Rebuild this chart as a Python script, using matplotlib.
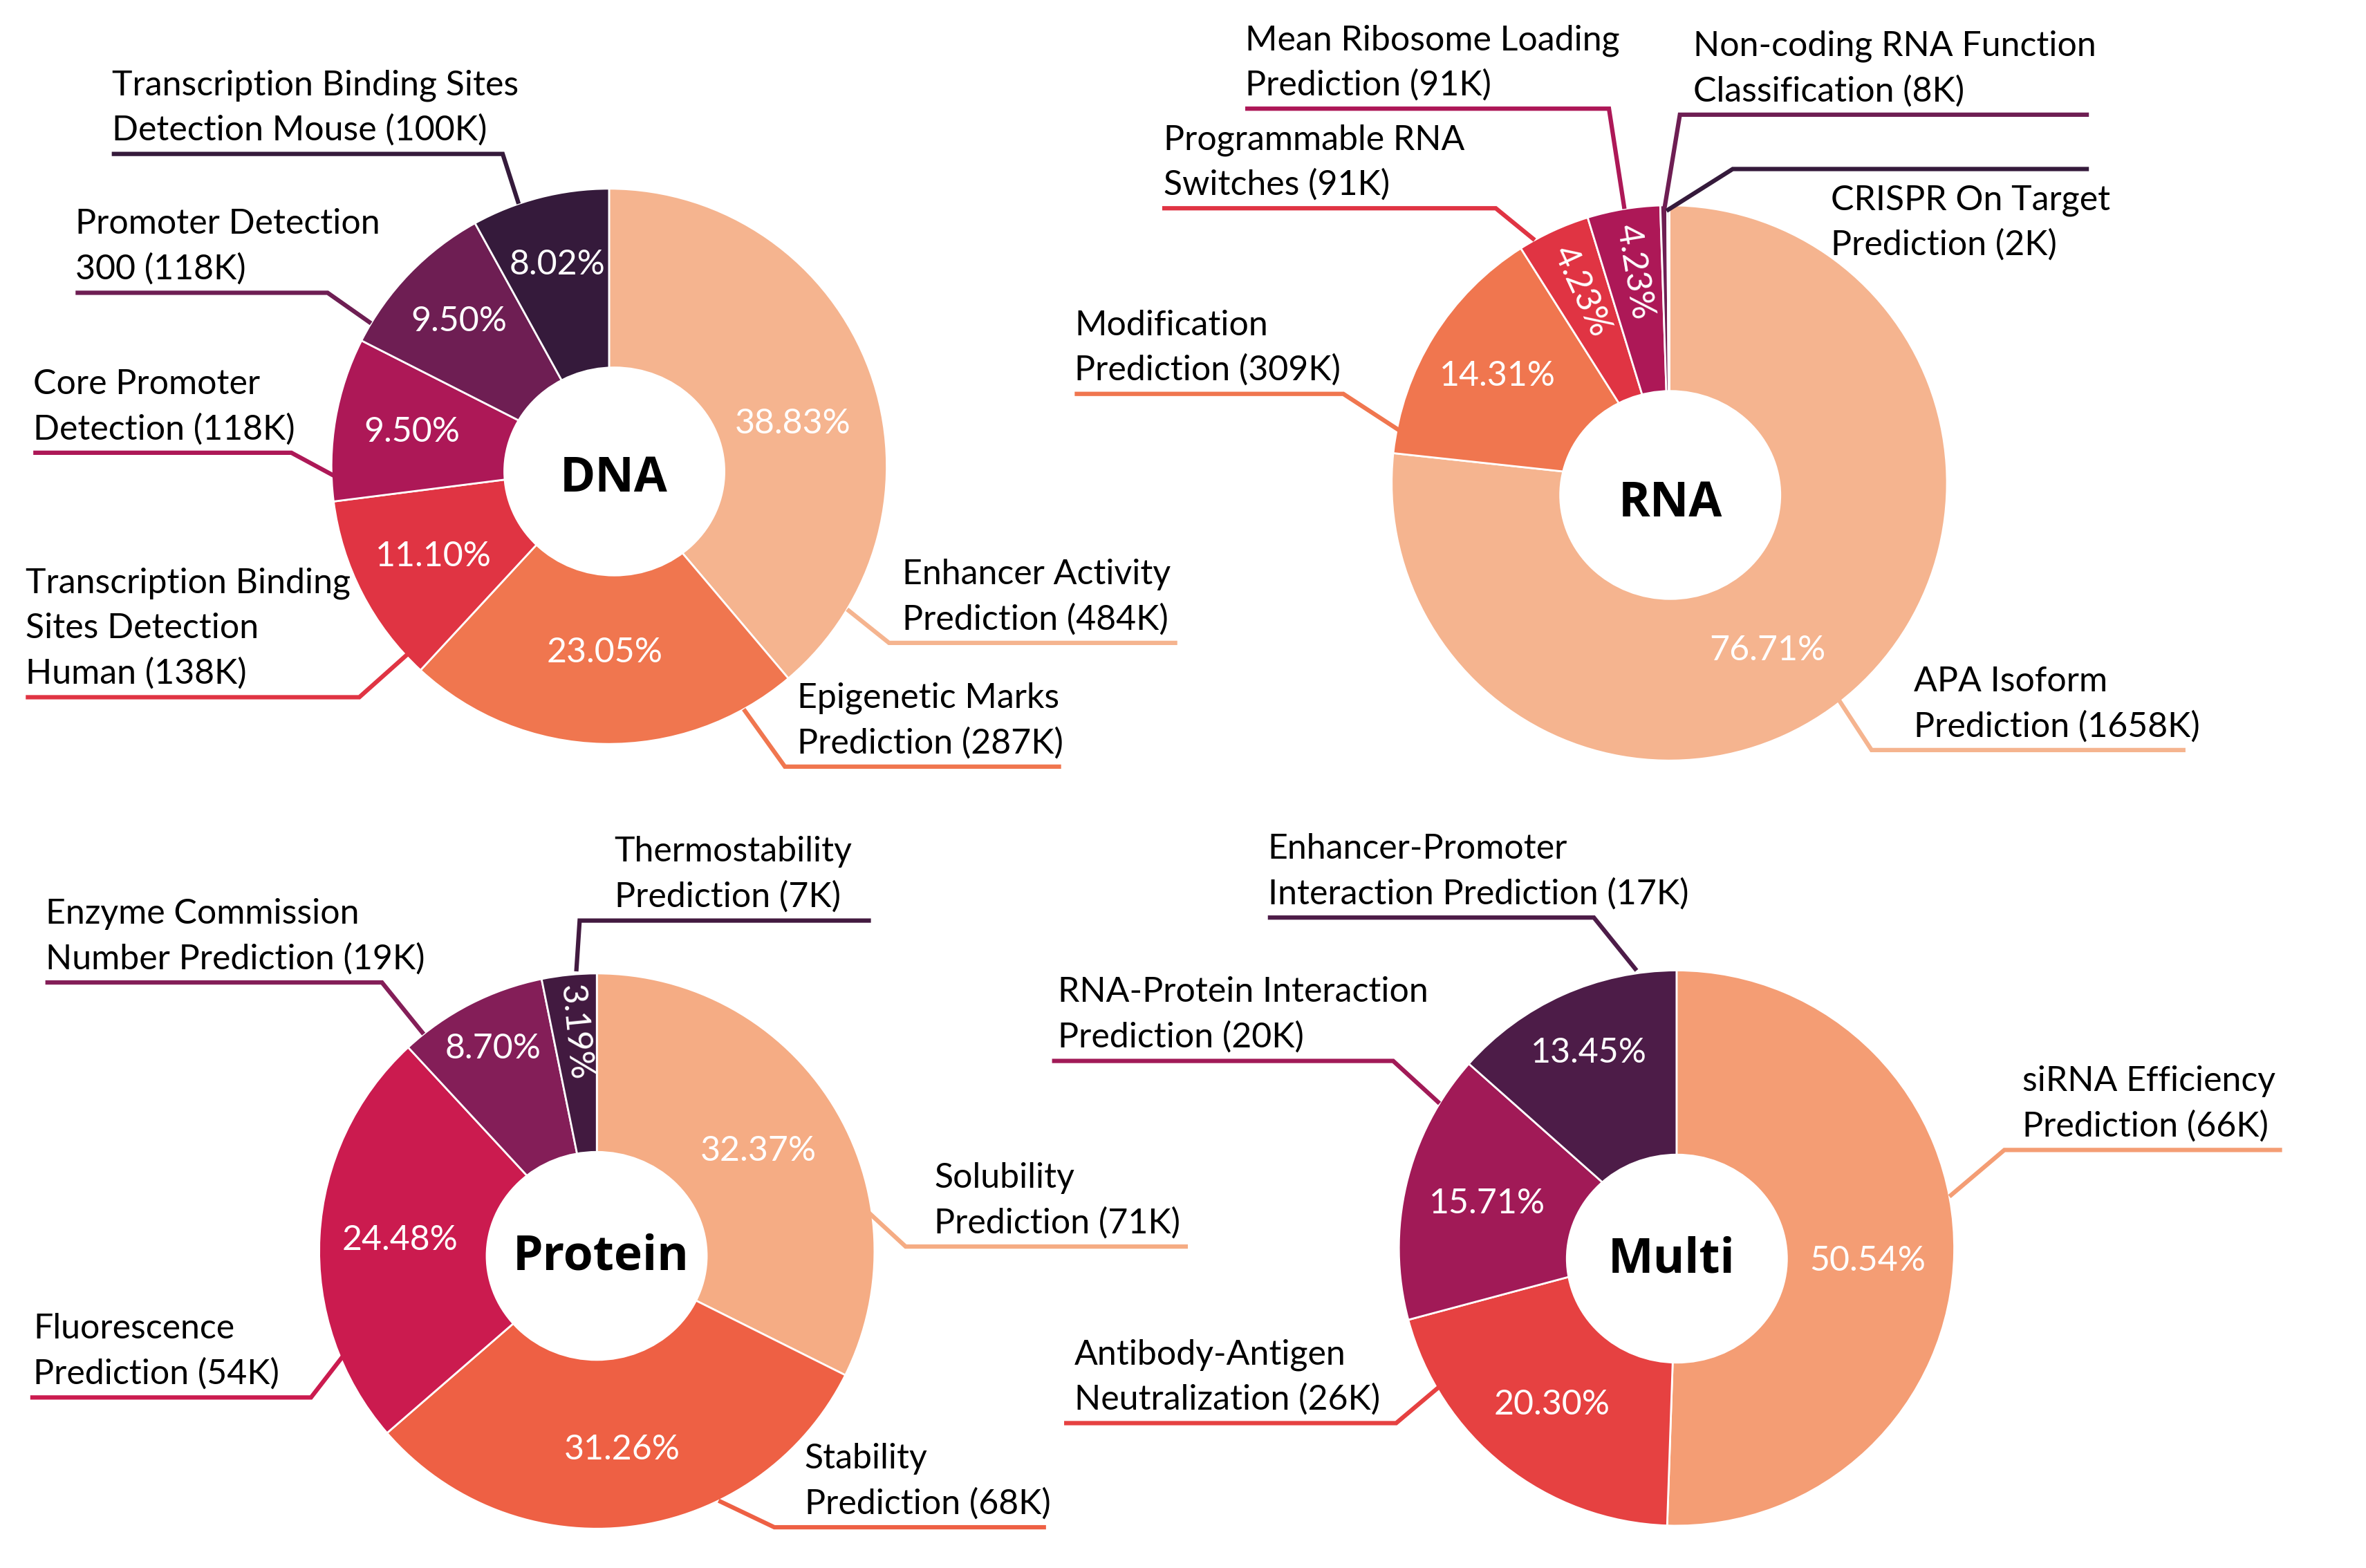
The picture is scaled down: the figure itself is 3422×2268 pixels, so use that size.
import numpy as np
import matplotlib
matplotlib.use('Agg')
import matplotlib.pyplot as plt
from matplotlib.patches import Ellipse

plt.rcParams['font.family'] = ['Lato', 'DejaVu Sans']

# ---- data ----
dna_labels = ['Enhancer Activity\nPrediction (484K)', 'Epigenetic Marks\nPrediction (287K)',
              'Transcription Binding\nSites Detection\nHuman (138K)', 'Core Promoter\nDetection (118K)',
              'Promoter Detection\n300 (118K)', 'Transcription Binding Sites\nDetection Mouse (100K)']
dna_pct = [38.83, 23.05, 11.10, 9.50, 9.50, 8.02]

rna_labels = ['APA Isoform\nPrediction (1658K)', 'Modification\nPrediction (309K)',
              'Programmable RNA\nSwitches (91K)', 'Mean Ribosome Loading\nPrediction (91K)',
              'Non-coding RNA Function\nClassification (8K)', 'CRISPR On Target\nPrediction (2K)']
rna_pct = [76.71, 14.31, 4.23, 4.23, 0.40, 0.12]

protein_labels = ['Solubility\nPrediction (71K)', 'Stability\nPrediction (68K)',
                  'Fluorescence\nPrediction (54K)', 'Enzyme Commission\nNumber Prediction (19K)',
                  'Thermostability\nPrediction (7K)']
protein_pct = [32.37, 31.26, 24.48, 8.70, 3.19]

multi_labels = ['siRNA Efficiency\nPrediction (66K)', 'Antibody-Antigen\nNeutralization (26K)',
                'RNA-Protein Interaction\nPrediction (20K)', 'Enhancer-Promoter\nInteraction Prediction (17K)']
multi_pct = [50.54, 20.30, 15.71, 13.45]

dna_colors = ['#F5B48F', '#F0764F', '#E03443', '#AD1857', '#6E1E53', '#351A3B']
rna_colors = dna_colors
protein_colors = ['#F5AC84', '#EE6044', '#CB1B4F', '#841E58', '#421A40']
multi_colors = ['#F49D74', '#E64141', '#A11A57', '#4D1C48']

# ---- layout (canvas units, y measured from top) ----
W, H = 1568, 1039
R = 184
HOLE_RX, HOLE_RY = 73.5, 69.5
# per label: start angle, start radius fraction, elbow x, elbow y, line end x, text x, text below line
dna_lay = [(-31, 1.0, 589, 426, 780, 598, False),
           (-61, 1.0, 520, 508, 703, 528, False),
           (223, 0.99, 238, 462, 17, 17, False),
           (182, 0.99, 193, 300, 22, 22, False),
           (149, 1.0, 217, 194, 50, 50, False),
           (109, 1.0, 333, 102, 74, 74, False)]
rna_lay = [(-52, 0.99, 1240, 497, 1448, 1268, False),
           (169, 0.99, 890, 261, 712, 712, False),
           (119, 1.0, 991, 138, 770, 771, False),
           (99.3, 1.0, 1066, 72, 825, 825, False),
           (91, 0.99, 1113, 76, 1384, 1122, False),
           (90.6, 0.98, 1148, 112, 1384, 1213, True)]
protein_lay = [(11, 0.95, 600, 826, 787, 619, False),
               (-64, 1.0, 513, 1012, 693, 533, False),
               (202.5, 0.99, 206, 926, 20, 22, False),
               (128.6, 1.0, 253, 651, 30, 30, False),
               (94.2, 1.01, 384, 610, 577, 407, False)]
multi_lay = [(10.7, 1.0, 1328, 762, 1512, 1340, False),
             (210, 0.96, 925, 943, 705, 712, False),
             (148.6, 1.0, 923, 703, 697, 701, False),
             (98.2, 1.01, 1056, 608, 840, 840, False)]
# percentage labels: radius fraction and angle offset from the wedge middle
dna_plab = [(0.68, -7), (0.67, 0), (0.71, 0), (0.72, 0), (0.75, 0), (0.75, 0)]
rna_plab = [(0.70, -11.6), (0.73, 0), (0.76, 0), (0.77, 0), None, None]
protein_plab = [(0.685, 0), (0.72, 0), (0.71, 0), (0.82, 0), (0.79, 0)]
multi_plab = [(0.69, -3), (0.72, 0), (0.70, 0), (0.77, 0)]

# name, pie centre, hole centre, title position
panels = [('DNA', (403.5, 309), (407, 312.4), (406.5, 325.5), dna_pct, dna_labels, dna_colors, dna_lay, dna_plab),
          ('RNA', (1106, 320), (1106.6, 328), (1106.5, 342), rna_pct, rna_labels, rna_colors, rna_lay, rna_plab),
          ('Protein', (395.4, 829), (395.3, 832.2), (398, 841.5), protein_pct, protein_labels, protein_colors,
           protein_lay, protein_plab),
          ('Multi', (1110.8, 827), (1111, 834), (1107.5, 843), multi_pct, multi_labels, multi_colors,
           multi_lay, multi_plab)]

FS = 36
LINE = 30  # spacing between text lines

fig = plt.figure(figsize=(34.23, 22.68), dpi=100)
ax = fig.add_axes([0, 0, 1, 1])


def Y(y):
    return H - y


for title, (cx, cy), (hx, hy), (tx0, ty0), pct, labels, colors, lay, plab in panels:
    wedges, _ = ax.pie(pct, colors=colors, startangle=90, counterclock=False,
                       radius=R, center=(cx, Y(cy)), frame=True,
                       wedgeprops=dict(width=0.7 * R, edgecolor='white', linewidth=2))
    ax.add_patch(Ellipse((hx, Y(hy)), 2 * HOLE_RX, 2 * HOLE_RY, facecolor='white',
                         edgecolor='none', zorder=3))
    for w, v, pl in zip(wedges, pct, plab):
        if pl is None:
            continue
        d, off = pl
        mid = np.deg2rad((w.theta1 + w.theta2) / 2 + off)
        px = cx + d * R * np.cos(mid)
        py = Y(cy) + d * R * np.sin(mid)
        rot = 0
        if v < 5:
            rot = np.rad2deg(mid) - 180
        ax.text(px, py, f'{v:.2f}%', color='white', fontsize=FS, ha='center', va='center',
                rotation=rot, rotation_mode='anchor', zorder=4)
    ax.text(tx0, Y(ty0), title, fontsize=50, fontweight='bold', ha='center', va='baseline',
            color='black', zorder=5, family=['Open Sans', 'DejaVu Sans'])

    for lab, c, (ang, rf, ex, ey, lx, tx, below) in zip(labels, colors, lay):
        a = np.deg2rad(ang)
        sx = cx + rf * R * np.cos(a)
        sy = Y(cy) + rf * R * np.sin(a)
        ax.plot([sx, ex, lx], [sy, Y(ey), Y(ey)], color=c, lw=4.5, solid_capstyle='butt',
                solid_joinstyle='miter', zorder=2)
        lines = lab.split('\n')
        if below:
            base = [ey + 27 + LINE * i for i in range(len(lines))]
        else:
            base = [ey - 9 - LINE * (len(lines) - 1 - i) for i in range(len(lines))]
        for t, b in zip(lines, base):
            ax.text(tx, Y(b), t, fontsize=FS, ha='left', va='baseline', color='black')

ax.set_xlim(0, W)
ax.set_ylim(0, H)
ax.set_aspect('equal')
ax.axis('off')

fig.savefig('out.png', dpi=100, facecolor='white')
